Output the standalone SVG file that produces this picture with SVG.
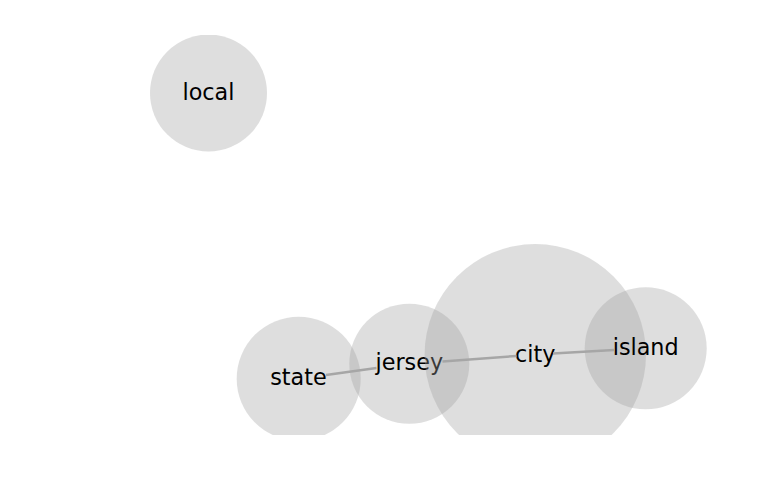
<svg xmlns="http://www.w3.org/2000/svg" width="769" height="500" viewBox="0 0 769 500">
<style>
.node circle{fill:rgb(160,160,160);fill-opacity:0.35}
.node text{font-family:"DejaVu Sans",sans-serif;font-size:22.3px;fill:#000;text-anchor:middle}
.edge{stroke:#a6a6a6;stroke-width:2.5;fill:none}
</style>
<defs>
<clipPath id="clip"><rect x="0" y="35" width="769" height="400"/></clipPath>
</defs>
<rect width="769" height="500" fill="#fff"/>
<g clip-path="url(#clip)">
<g id="nodes-circles">
<g id="local" class="node"><circle cx="208.5" cy="93" r="58.5"/><text x="208.5" y="99.8">local</text></g>
<g id="state" class="node"><circle cx="298.7" cy="378.7" r="62"/><text x="298.5" y="385.4">state</text></g>
<g id="jersey" class="node"><circle cx="409.3" cy="363.7" r="60"/><text x="409.3" y="370.4">jersey</text></g>
<g id="city" class="node"><circle cx="535.3" cy="354.7" r="110.7"/><text x="535.3" y="361.6">city</text></g>
<g id="island" class="node"><circle cx="645.7" cy="348.3" r="61"/><text x="645.7" y="355.2">island</text></g>
</g>
<g id="edges">
<line class="edge" x1="326" y1="375" x2="376.5" y2="368"/>
<line class="edge" x1="442.5" y1="361.4" x2="516.5" y2="356"/>
<line class="edge" x1="553" y1="353.6" x2="614" y2="350"/>
</g>
</g>
</svg>
